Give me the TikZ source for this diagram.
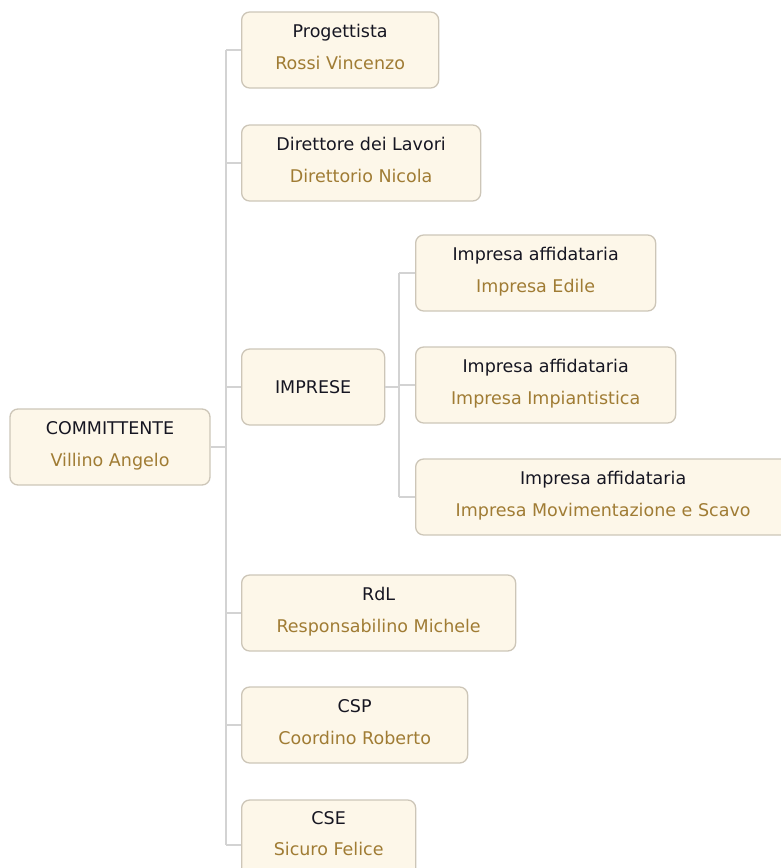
\documentclass[tikz,border=0pt]{standalone}
\usepackage{fontspec}
\setmainfont{DejaVu Sans}
\usepackage{xcolor}
\definecolor{boxfill}{HTML}{FDF7E9}
\definecolor{boxline}{HTML}{CDC6B8}
\definecolor{wirecol}{HTML}{D3D3D3}
\definecolor{rolecol}{HTML}{161622}
\definecolor{namecol}{HTML}{A07C34}
\newcommand{\rolename}[2]{\textcolor{rolecol}{#1}\\[10.5pt]\textcolor{namecol}{#2}}

\begin{document}
\begin{tikzpicture}[x=1pt,y=-1pt]
\tikzstyle{every node}+=[inner sep=0pt]
\tikzstyle{card}=[draw=boxline, fill=boxfill, line width=1.3pt, rounded corners=8pt, minimum height=76pt, align=center, font=\fontsize{17.5}{21}\selectfont, text height=52pt, text depth=14pt]
\tikzstyle{wire}=[draw=wirecol, line width=1.8pt]
\useasboundingbox (0,0) rectangle (781,868);
\clip (0,0) rectangle (781,868);
\node [card, minimum width=200pt, text height=51pt, text depth=12.6pt] (comm) at (110,447) {\rolename{COMMITTENTE}{Villino Angelo}};
\node [card, anchor=west, minimum width=197pt] (prog) at (241,50) {\rolename{Progettista}{Rossi Vincenzo}};
\node [card, anchor=west, minimum width=239pt] (dl) at (241,163) {\rolename{Direttore dei Lavori}{Direttorio Nicola}};
\node [card, anchor=west, minimum width=143pt, text height=12.8pt, text depth=0pt] (imp) at (241,387) {\textcolor{rolecol}{IMPRESE}};
\node [card, anchor=west, minimum width=240pt] (edile) at (415,273) {\rolename{Impresa affidataria}{Impresa Edile}};
\node [card, anchor=west, minimum width=260pt] (impi) at (415,385) {\rolename{Impresa affidataria}{Impresa Impiantistica}};
\node [card, anchor=west, minimum width=375pt] (mov) at (415,497) {\rolename{Impresa affidataria}{Impresa Movimentazione e Scavo}};
\node [card, anchor=west, minimum width=274pt] (rdl) at (241,613) {\rolename{RdL}{Responsabilino Michele}};
\node [card, anchor=west, minimum width=226pt] (csp) at (241,725) {\rolename{CSP}{Coordino Roberto}};
\node [card, anchor=west, minimum width=174pt, minimum height=90pt, text height=45pt, text depth=24pt] (cse) at (241,845) {\rolename{CSE}{Sicuro Felice}};
\coordinate (trunk) at (226,0);
\coordinate (sub) at (399,0);
\draw [wire] (comm.east) -- (comm.east -| trunk);
\draw [wire] (trunk |- prog.west) -- (trunk |- cse.west);
\foreach \n in {prog,dl,imp,rdl,csp,cse}
  \draw [wire] (trunk |- \n.west) -- (\n.west);
\draw [wire] (imp.east) -- (imp.east -| sub);
\draw [wire] (sub |- edile.west) -- (sub |- mov.west);
\foreach \n in {edile,impi,mov}
  \draw [wire] (sub |- \n.west) -- (\n.west);
\end{tikzpicture}
\end{document}
